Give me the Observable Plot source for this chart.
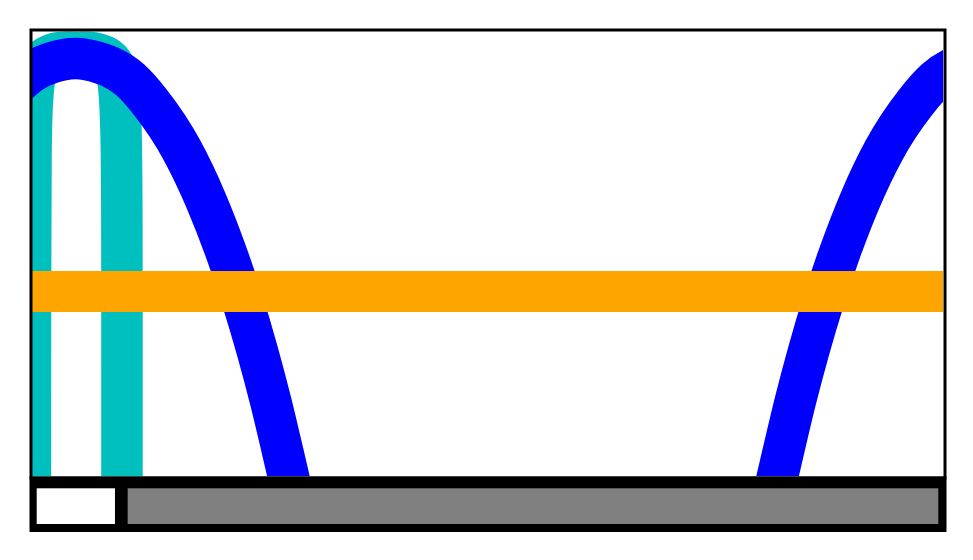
<!DOCTYPE html>
<html>
<head>
<meta charset="utf-8">
<script src="https://cdn.jsdelivr.net/npm/d3@7"></script>
<script src="https://cdn.jsdelivr.net/npm/@observablehq/plot@0.6"></script>
<style>
  body { margin: 0; background: #fff; }
  #wrap { position: relative; width: 973px; height: 560px; }
  #wrap svg { position: absolute; left: 0; background: transparent; }
</style>
</head>
<body>
<div id="wrap"></div>
<script>
// Blue curve, x in [0,10], y in [0,1]
const blueX = [-0.2415, 0, 0.1976, 0.4720, 0.7464, 0.8562, 1.0757, 1.2953, 1.6422, 1.9045, 2.1186, 2.3041, 2.4665, 2.6125, 2.8101, 2.9418,
               8.0461, 8.1778, 8.3754, 8.5214, 8.6838, 8.8694, 9.0834, 9.3458, 9.6926, 9.9122, 10.1317, 10.2415, 10.5159];
const blueY = [0.8681, 0.9101, 0.9288, 0.9393, 0.9288, 0.9202, 0.8910, 0.8404, 0.7326, 0.6202, 0.5079, 0.3955, 0.2831, 0.1708, 0.0, -0.1146,
               -0.1146, 0.0, 0.1708, 0.2831, 0.3955, 0.5079, 0.6202, 0.7326, 0.8404, 0.8910, 0.9202, 0.9288, 0.9393];

// Cyan arch
const cyanX = [-0.022, -0.022, -0.016, 0, 0.033, 0.110, 0.252, 0.472, 0.692, 0.834, 0.911, 0.950, 0.971, 0.980, 0.982, 0.982];
const cyanY = [-0.279, 0.396, 0.733, 0.845, 0.901, 0.935, 0.951, 0.953, 0.951, 0.939, 0.917, 0.867, 0.778, 0.620, 0.396, -0.279];

// Orange horizontal level
const orangeLevel = [0.416];

// Slider bar segments (fraction of track)
const sliderParts = ["selection", "track"];
const sliderStart = [0, 0.1009];
const sliderEnd = [0.0868, 1];

const blue = blueX.map((x, i) => ({x, y: blueY[i]}));
const cyan = cyanX.map((x, i) => ({x, y: cyanY[i]}));
const parts = sliderParts.map((p, i) => ({part: p, start: sliderStart[i], end: sliderEnd[i]}));

const main = Plot.plot({
  width: 973,
  height: 560,
  marginTop: 31,
  marginBottom: 84,
  marginLeft: 32,
  marginRight: 30,
  x: {domain: [0, 10], axis: null},
  y: {domain: [0, 1], axis: null},
  marks: [
    Plot.line(cyan, {x: "x", y: "y", stroke: "#00bfbf", strokeWidth: 41.5, curve: "catmull-rom",
      strokeLinejoin: "round", strokeLinecap: "round", clip: true}),
    Plot.line(blue, {x: "x", y: "y", stroke: "#0000ff", strokeWidth: 41.5, curve: "monotone-x",
      strokeLinejoin: "round", strokeLinecap: "round", clip: true}),
    Plot.ruleY(orangeLevel, {stroke: "#ffa500", strokeWidth: 41}),
    Plot.frame({stroke: "black", strokeWidth: 3, inset: -1.5})
  ]
});
main.style.top = "0px";

const slider = Plot.plot({
  width: 973,
  height: 84,
  marginTop: 12.3,
  marginBottom: 36,
  marginLeft: 36.7,
  marginRight: 34.7,
  x: {domain: [0, 1], axis: null},
  color: {domain: sliderParts, range: ["white", "#808080"]},
  marks: [
    Plot.frame({fill: "black", stroke: null, insetTop: -12.3, insetBottom: -7.5, insetLeft: -7.7, insetRight: -7.7}),
    Plot.barX(parts, {x1: "start", x2: "end", fill: "part"})
  ]
});
slider.style.top = "476px";

const wrap = document.getElementById("wrap");
wrap.appendChild(main);
wrap.appendChild(slider);
</script>
</body>
</html>
